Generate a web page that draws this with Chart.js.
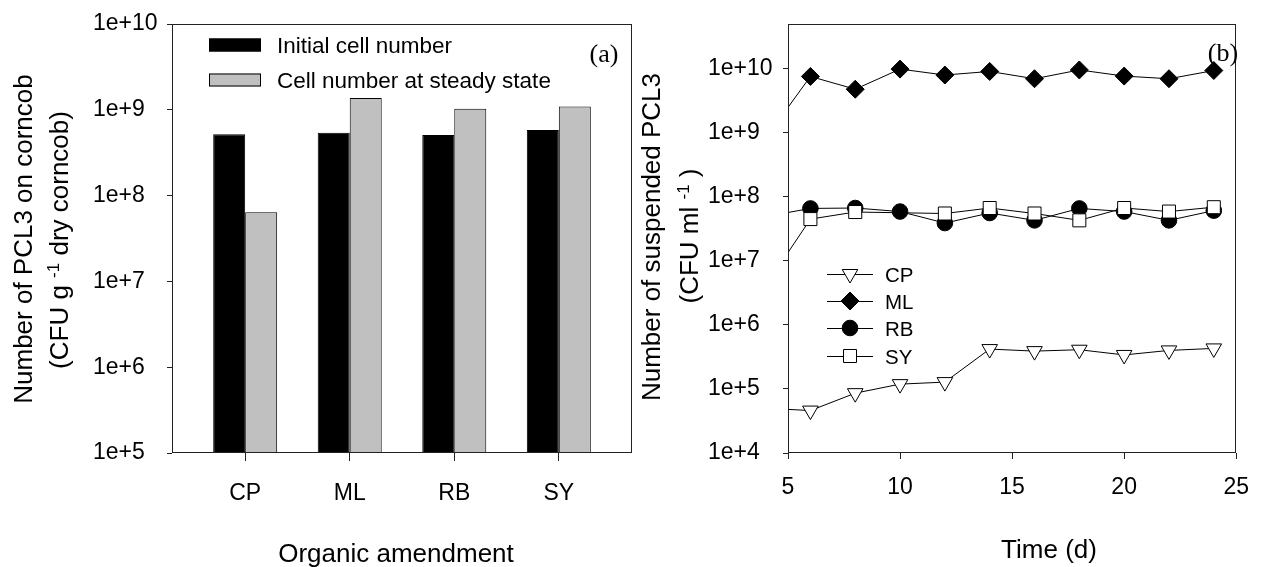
<!DOCTYPE html>
<html>
<head>
<meta charset="utf-8">
<script src="https://cdn.jsdelivr.net/npm/chart.js@4.4.1/dist/chart.umd.min.js"></script>
<style>
  html, body { margin: 0; padding: 0; background: #fff; }
  #wrap { position: relative; width: 1264px; height: 567px; overflow: hidden; }
  #cL { position: absolute; left: 0; top: 0; }
  #cR { position: absolute; left: 640px; top: 0; }
</style>
</head>
<body>
<div id="wrap">
  <canvas id="cL" width="640" height="567"></canvas>
  <canvas id="cR" width="624" height="567"></canvas>
</div>
<script>
// ---- (a) cells attached to corncob, per organic amendment ----
const amendments = ['CP', 'ML', 'RB', 'SY'];
const initialCells = [5.2e8, 5.4e8, 5.1e8, 5.8e8];
const steadyStateCells = [6.4e7, 1.37e9, 1.03e9, 1.09e9];
const barYTicks = [1e5, 1e6, 1e7, 1e8, 1e9, 1e10];

// ---- (b) suspended cells over time ----
const days = [5, 6, 8, 10, 12, 14, 16, 18, 20, 22, 24];
const cpCounts = [4.8e4, 4.6e4, 8.6e4, 1.19e5, 1.28e5, 4.2e5, 3.9e5, 4.1e5, 3.4e5, 4.0e5, 4.3e5];
const mlCounts = [2.5e9, 7.6e9, 4.8e9, 9.9e9, 8.0e9, 9.1e9, 7.0e9, 9.6e9, 7.7e9, 7.0e9, 9.4e9];
const rbCounts = [5.7e7, 6.6e7, 6.7e7, 5.9e7, 3.9e7, 5.6e7, 4.3e7, 6.6e7, 5.9e7, 4.3e7, 6.1e7];
const syCounts = [1.35e7, 4.5e7, 5.8e7, null, 5.5e7, 6.7e7, 5.5e7, 4.3e7, 6.7e7, 5.9e7, 6.9e7];
const timeTicks = [5, 10, 15, 20, 25];
const countTicks = [1e4, 1e5, 1e6, 1e7, 1e8, 1e9, 1e10];

const SANS = '"Liberation Sans", Arial, Helvetica, sans-serif';
const SERIF = '"Liberation Serif", "Times New Roman", serif';
Chart.defaults.font.family = SANS;
Chart.defaults.color = '#000';

const expLabel = v => '1e+' + Math.round(Math.log10(v));
const setTicks = list => scale => { scale.ticks = list.map(v => ({ value: v })); };

// box around the plotting area
const framePlugin = {
  id: 'frame',
  afterDatasetsDraw(chart) {
    const a = chart.chartArea, ctx = chart.ctx;
    ctx.save();
    ctx.strokeStyle = '#222';
    ctx.lineWidth = 1;
    const l = Math.round(a.left) + 0.5, t = Math.round(a.top) + 0.5;
    const r = Math.round(a.right) - 0.5, b = Math.round(a.bottom) - 0.5;
    ctx.strokeRect(l, t, r - l, b - t);
    ctx.restore();
  }
};

// text written bottom-to-top, built from runs so that exponents can be raised
function drawVertical(ctx, runs, baseX, centerY) {
  ctx.save();
  ctx.translate(baseX, centerY);
  ctx.rotate(-Math.PI / 2);
  ctx.fillStyle = '#000';
  ctx.textAlign = 'left';
  ctx.textBaseline = 'alphabetic';
  let total = 0;
  runs.forEach(r => { ctx.font = r.size + 'px ' + SANS; r.w = ctx.measureText(r.text).width; total += r.w; });
  let x = -total / 2;
  runs.forEach(r => { ctx.font = r.size + 'px ' + SANS; ctx.fillText(r.text, x, -(r.rise || 0)); x += r.w; });
  ctx.restore();
}

function drawMarker(ctx, style, x, y, r, fill) {
  ctx.save();
  ctx.beginPath();
  if (style === 'triangleDown') {
    const s = Math.sin(Math.PI / 3) * r;
    ctx.moveTo(x, y + r);
    ctx.lineTo(x - s, y - r / 2);
    ctx.lineTo(x + s, y - r / 2);
    ctx.closePath();
  } else if (style === 'diamond') {
    ctx.moveTo(x, y - r); ctx.lineTo(x + r, y); ctx.lineTo(x, y + r); ctx.lineTo(x - r, y);
    ctx.closePath();
  } else if (style === 'circle') {
    ctx.arc(x, y, r, 0, Math.PI * 2);
  } else {
    const h = r * Math.SQRT1_2;
    ctx.rect(x - h, y - h, 2 * h, 2 * h);
  }
  ctx.fillStyle = fill;
  ctx.fill();
  ctx.strokeStyle = '#000';
  ctx.lineWidth = 1;
  ctx.stroke();
  ctx.restore();
}

const TITLE = 26, SUP = 17;

const leftDecor = {
  id: 'leftDecor',
  afterDraw(chart) {
    const ctx = chart.ctx;
    // legend
    const rows = [
      { label: 'Initial cell number', color: '#000', y: 45 },
      { label: 'Cell number at steady state', color: '#c0c0c0', y: 80 }
    ];
    ctx.save();
    rows.forEach(row => {
      ctx.fillStyle = row.color;
      ctx.fillRect(209, row.y - 6.5, 52, 13);
      ctx.strokeStyle = '#000';
      ctx.lineWidth = 1;
      ctx.strokeRect(209.5, row.y - 6, 51, 12);
      ctx.fillStyle = '#000';
      ctx.font = '22.5px ' + SANS;
      ctx.textBaseline = 'alphabetic';
      ctx.textAlign = 'left';
      ctx.fillText(row.label, 277, row.y + 8);
    });
    // panel tag
    ctx.font = '26px ' + SERIF;
    ctx.textAlign = 'center';
    ctx.fillText('(a)', 604, 62);
    // x title
    ctx.font = TITLE + 'px ' + SANS;
    ctx.fillText('Organic amendment', 396, 562);
    ctx.restore();
    // y title
    drawVertical(ctx, [{ text: 'Number of PCL3 on corncob', size: TITLE }], 32, 239);
    drawVertical(ctx, [
      { text: '(CFU g ', size: TITLE },
      { text: '-1', size: SUP, rise: 9 },
      { text: ' dry corncob)', size: TITLE }
    ], 68, 240);
  }
};

const rightDecor = {
  id: 'rightDecor',
  afterDraw(chart) {
    const ctx = chart.ctx;
    const entries = [
      { label: 'CP', style: 'triangleDown', fill: '#fff', r: 9, y: 274 },
      { label: 'ML', style: 'diamond', fill: '#000', r: 9, y: 301 },
      { label: 'RB', style: 'circle', fill: '#000', r: 7.8, y: 328 },
      { label: 'SY', style: 'square', fill: '#fff', r: 9.2, y: 356 }
    ];
    ctx.save();
    entries.forEach(e => {
      ctx.strokeStyle = '#000';
      ctx.lineWidth = 1;
      ctx.beginPath();
      ctx.moveTo(187, Math.round(e.y) + 0.5);
      ctx.lineTo(233, Math.round(e.y) + 0.5);
      ctx.stroke();
      drawMarker(ctx, e.style, 210, e.y, e.r, e.fill);
      ctx.fillStyle = '#000';
      ctx.font = '20.5px ' + SANS;
      ctx.textAlign = 'left';
      ctx.textBaseline = 'alphabetic';
      ctx.fillText(e.label, 245, e.y + 7.5);
    });
    ctx.font = '26px ' + SERIF;
    ctx.textAlign = 'center';
    ctx.fillText('(b)', 583, 61);
    ctx.font = TITLE + 'px ' + SANS;
    ctx.fillText('Time (d)', 409, 558);
    ctx.restore();
    drawVertical(ctx, [{ text: 'Number of suspended PCL3', size: TITLE }], 20, 237);
    drawVertical(ctx, [
      { text: '(CFU ml ', size: TITLE },
      { text: '-1', size: SUP, rise: 9 },
      { text: ' )', size: TITLE }
    ], 58, 236);
  }
};

const tickGrid = len => ({ display: true, drawOnChartArea: false, drawTicks: true, tickLength: len, color: '#222', lineWidth: 1, offset: false });

// (a) grouped bars on a log axis
new Chart(document.getElementById('cL'), {
  type: 'bar',
  data: {
    datasets: [
      {
        label: 'Initial cell number',
        data: amendments.map((c, i) => ({ x: i + 1, y: initialCells[i] })),
        backgroundColor: '#000', borderColor: '#000', borderWidth: 1,
        base: 1e5, categoryPercentage: 0.612, barPercentage: 1
      },
      {
        label: 'Cell number at steady state',
        data: amendments.map((c, i) => ({ x: i + 1, y: steadyStateCells[i] })),
        backgroundColor: '#c0c0c0', borderColor: '#000', borderWidth: 1,
        base: 1e5, categoryPercentage: 0.612, barPercentage: 1
      }
    ]
  },
  options: {
    responsive: false, animation: false, events: [],
    layout: { padding: { left: 93, top: 24, right: 8, bottom: 0 } },
    plugins: { legend: { display: false }, tooltip: { enabled: false } },
    scales: {
      x: {
        type: 'linear', min: 0.3, max: 4.7, offset: false,
        grid: tickGrid(8), border: { display: false },
        ticks: { font: { size: 23 }, padding: 19, autoSkip: false, maxRotation: 0,
                 callback: v => amendments[Math.round(v) - 1] },
        afterBuildTicks: setTicks(amendments.map((c, i) => i + 1)),
        afterFit: s => { s.height = 114; }
      },
      y: {
        type: 'logarithmic', min: 1e5, max: 1e10,
        grid: tickGrid(5), border: { display: false },
        ticks: { font: { size: 23 }, crossAlign: 'far', autoSkip: false, callback: expLabel },
        afterBuildTicks: setTicks(barYTicks),
        afterFit: s => { s.width = 79; }
      }
    }
  },
  plugins: [framePlugin, leftDecor]
});

// (b) suspended counts over time; the first sample sits on the axis edge and only its line shows
const series = (vals) => days.map((d, i) => ({ x: d, y: vals[i] }));
const seriesRadius = r => ctx => (ctx.dataIndex === 0 ? 0 : r);
const lineCommon = {
  borderColor: '#000', borderWidth: 1, pointBorderColor: '#000', pointBorderWidth: 1,
  spanGaps: true, tension: 0
};

new Chart(document.getElementById('cR'), {
  type: 'line',
  data: {
    datasets: [
      Object.assign({}, lineCommon, { label: 'CP', data: series(cpCounts), pointStyle: 'triangle', pointRotation: 180,
        pointBackgroundColor: '#fff', pointRadius: seriesRadius(9), order: 4 }),
      Object.assign({}, lineCommon, { label: 'ML', data: series(mlCounts), pointStyle: 'rectRot',
        pointBackgroundColor: '#000', pointRadius: seriesRadius(9), order: 3 }),
      Object.assign({}, lineCommon, { label: 'RB', data: series(rbCounts), pointStyle: 'circle',
        pointBackgroundColor: '#000', pointRadius: seriesRadius(7.8), order: 2 }),
      Object.assign({}, lineCommon, { label: 'SY', data: series(syCounts), pointStyle: 'rect',
        pointBackgroundColor: '#fff', pointRadius: seriesRadius(9.2), order: 1 })
    ]
  },
  options: {
    responsive: false, animation: false, events: [],
    layout: { padding: { left: 68, top: 24, right: 17, bottom: 0 } },
    plugins: { legend: { display: false }, tooltip: { enabled: false } },
    scales: {
      x: {
        type: 'linear', min: 5, max: 25,
        grid: tickGrid(6), border: { display: false },
        ticks: { font: { size: 23 }, padding: 15, autoSkip: false, maxRotation: 0 },
        afterBuildTicks: setTicks(timeTicks),
        afterFit: s => { s.height = 114; }
      },
      y: {
        type: 'logarithmic', min: 1e4, max: Math.pow(10, 10.7),
        grid: tickGrid(5), border: { display: false },
        ticks: { font: { size: 23 }, crossAlign: 'far', autoSkip: false, callback: expLabel },
        afterBuildTicks: setTicks(countTicks),
        afterFit: s => { s.width = 80; }
      }
    }
  },
  plugins: [framePlugin, rightDecor]
});
</script>
</body>
</html>
